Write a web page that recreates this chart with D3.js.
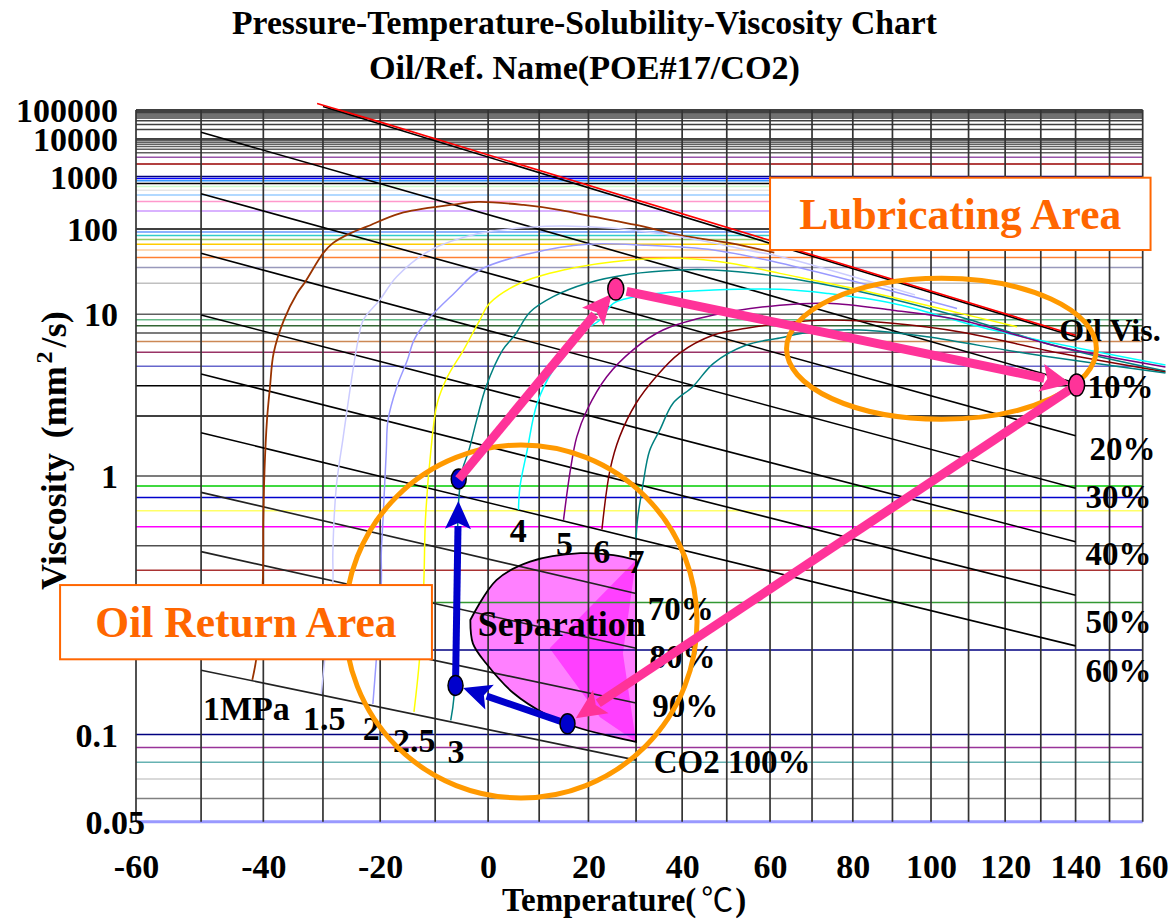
<!DOCTYPE html>
<html>
<head>
<meta charset="utf-8">
<script src="https://cdn.jsdelivr.net/npm/d3@7/dist/d3.min.js"></script>
<style>
html,body{margin:0;padding:0;background:#fff;}
svg text{font-family:"Liberation Serif","Times New Roman",serif;font-weight:bold;}
</style>
</head>
<body>
<svg id="chart" width="1169" height="921"></svg>
<script>
// ---------------- DATA ----------------
const title1 = "Pressure-Temperature-Solubility-Viscosity Chart";
const title2 = "Oil/Ref. Name(POE#17/CO2)";
const xTickValues = [-60,-40,-20,0,20,40,60,80,100,120,140,160];
const xTickLabels = ["-60","-40","-20","0","20","40","60","80","100","120","140","160"];
const yTickValues = [100000,10000,1000,100,10,1,0.1,0.05];
const yTickLabels = ["100000","10000","1000","100","10","1","0.1","0.05"];
const gridTemps = [-60,-50,-40,-30,-20,-10,0,10,20,30,40,50,60,70,80,90,100,110,120,130,140,150,160];

const hLineValues = [100000,90000,80000,70000,60000,50000,40000,30000,20000,10000,
  9000,8000,7000,6000,5000,4000,3000,2000,1000,900,800,700,600,500,400,300,200,100,
  90,80,70,60,50,40,30,20,10,9,8,7,6,5,4,3,2,1,0.9,0.8,0.7,0.6,0.5,0.4,0.3,0.2,0.1,
  0.09,0.08,0.07,0.06,0.05];
const hLineColors = ["#000000","#404040","#404040","#404040","#404040","#404040","#404040","#404040","#404040","#000000",
  "#606060","#606060","#606060","#606060","#606060","#606060","#9955aa","#990000","#000080","#0000ff","#3399ff","#000000","#ccffcc","#e6e6e6","#99ccff","#ff99cc","#cc99ff","#000000",
  "#6699ff","#33cccc","#99cc66","#ffcc00","#ffcc99","#ff8033","#9999bb","#c0c0c0","#606060","#66bb88","#336633","#505050","#cc8855","#993366","#6666cc","#000000","#000000","#505050",
  "#00cc00","#0000cc","#ffff66","#ff00ff","#505050","#aa3333","#339933","#000080","#000080",
  "#993399","#66b2b2","#d9d9d9","#808080","#9999ff"];

const concNames = ["10%","20%","30%","40%","50%","60%","70%","80%","90%","CO2 100%"];
const concStart = [[-50,16300],[-50,426],[-50,45.1],[-50,9.87],[-50,3.56],[-50,1.63],[-50,0.843],[-50,0.474],[-50,0.279],[-50,0.169]];
const concEnd = [[140,3.12],[140,1.57],[140,0.88],[140,0.52],[140,0.32],[140,0.207],[30,0.325],[30,0.203],[30,0.129],[30,0.0814]];
const concLabelAt = [[143.5,2.53],[144.1,1.19],[142.9,0.72],[142.9,0.419],[142.9,0.231],[142.9,0.153],[32.5,0.258],[32.9,0.172],[33.5,0.115],[33.8,0.0735]];

const oilVisLine = [[-30,136900],[140,6.53]];
const oilVisMeasured = [[-31,157000],[-20.1,32500],[59.8,64.9],[66.4,47.4],[140,6.53]];
const oilVisLabel = "Oil Vis.";
const oilVisLabelAt = [135.3,6.06];

const isobarNames = ["1MPa","1.5","2","2.5","3","4","5","6","7"];
const isobar1 = [[-41.8,0.156],[-41.1,0.189],[-40.1,0.356],[-40,0.64],[-39.8,1.07],[-39.4,1.9],[-38.9,2.96],[-38.3,4.94],[-36.6,8.93],[-34.4,15.7],[-33,20.8],[-30,45],[-28.3,62],[-25.3,86],[-22.4,109],[-16.4,182],[-7.1,257],[-1.9,293],[6.9,257],[14.3,208],[21,159],[30,116],[39.4,81],[50.8,62],[61,46]];
const isobar1_5 = [[-30.3,0.139],[-29.7,0.184],[-28.3,0.356],[-28.3,0.468],[-27.7,0.895],[-26.5,1.55],[-24.8,3.78],[-23.9,6.16],[-23,8.93],[-20.1,13.5],[-17,23.7],[-10.8,49.9],[-1.6,86],[8.2,107],[14.9,112],[25.2,103],[39.4,77],[54.5,50],[62.3,41],[95.8,15.2]];
const isobar2 = [[-21.3,0.128],[-19.8,0.356],[-19.8,0.468],[-19.5,0.64],[-18.9,1.32],[-18.6,1.9],[-17,2.96],[-15.1,4.41],[-13.9,6.16],[-11.4,8.93],[-6.5,15.7],[-1.6,28.1],[8.2,45],[19.7,60],[32.2,58],[47,50],[62.3,34],[106.9,11.3]];
const isobar2_5 = [[-13.9,0.12],[-12.9,0.184],[-12.1,0.356],[-11.8,0.64],[-10.8,1.32],[-9.6,2.37],[-7.7,3.42],[-4.7,5.19],[-1.6,8.93],[0.3,12.6],[6.2,20],[14.9,28.1],[28.6,37.1],[39.4,38.9],[50.8,33.8],[62.3,25.7],[81.9,17],[107.8,10.2],[123.3,7.85]];
const isobar3 = [[-7.1,0.112],[-6.5,0.135],[-6,0.307],[-5.6,0.78],[-4.9,1.07],[-3.7,1.32],[-2.2,1.9],[-0.4,2.96],[2.8,5.19],[5.2,6.74],[8.2,10.5],[12.8,14.6],[19.7,20],[28.6,25.1],[39.4,28.1],[47,28.1],[62.3,23.6],[81.9,16.3],[107.8,9.48],[135.3,5.46],[167,3.72]];
const isobar4 = [[5.9,0.706],[6.2,0.895],[7.6,1.32],[9.6,2.36],[12.8,3.78],[15.6,4.92],[18.2,6.99],[22.4,8.93],[25.2,12.6],[32.2,15.2],[47,17],[62.3,17.3],[73.7,15.7],[90,12.6],[116.6,7.38],[167,4.08]];
const isobar5 = [[14.9,0.64],[16.3,1.07],[17.6,1.55],[19.7,2.16],[23.8,3.42],[29.3,5.19],[35.8,7.38],[47,9.87],[62.3,12.1],[73.7,12.6],[90,10.9],[107.8,8.93],[135.3,5.49],[167,3.96]];
const isobar6 = [[22.8,0.584],[24.5,1.07],[26.5,1.55],[30,2.36],[34.3,3.42],[39.4,4.92],[47,6.74],[54.5,7.62],[62.3,8.38],[73.7,8.93],[90,8.38],[107.8,7.12],[135.3,4.94],[167,3.67]];
const isobar7 = [[30,0.537],[30.3,0.64],[31.4,0.895],[32.9,1.32],[35.1,1.68],[38,2.36],[42.4,2.97],[47,4.19],[54.5,5.65],[62.3,6.39],[69.6,7.12],[81.9,7.38],[98.9,6.53],[125.7,4.92],[167,3.61]];
const isobarLabelAt = [[-49.7,0.112],[-33.4,0.1035],[-23.1,0.0956],[-17.7,0.0868],[-7.7,0.0795],[4.2,0.52],[13.4,0.459],[21.0,0.427],[28.2,0.39]];

const sepTop = [[-3.4,0.258],[1.6,0.366],[8.2,0.432],[18.3,0.467],[25.2,0.459],[30,0.439]];
const sepBottom = [[30,0.0943],[25.2,0.0981],[17.6,0.106],[11.6,0.117],[4.9,0.14],[-0.4,0.179],[-2.9,0.211],[-3.4,0.258]];
const sepWedge = [[30,0.439],[12.1,0.203],[22.4,0.115],[30,0.0943],[27.2,0.1945]];
const sepLabel = "Separation";
const sepLabelAt = [-2.0,0.225];

const oilReturnCircleT = [-26.2,43.3], oilReturnCircleV = [1.41,0.0603];
const lubEllipseT = [63.9,146.1], lubEllipseV = [22.6,1.92];
const lubBoxT = [60,162.4], lubBoxV = [940,49.9];
const oilBoxT = [-71.1,-10.6], oilBoxV = [0.35,0.185];
const lubLabel = "Lubricating Area", oilLabel = "Oil Return Area";

const blueDots = [[-5.6,0.969],[-6.2,0.149],[15.7,0.109]];
const pinkDots = [[25.7,17.4],[140.3,3.03]];
const pinkArrows = [[[-5.6,0.969],[25.7,17.4]],[[25.7,17.4],[140.3,3.03]],[[140.3,3.03],[15.7,0.109]]];
const blueArrows = [[[-6.2,0.149],[-5.6,0.969]],[[15.7,0.109],[-6.2,0.149]]];

// ---------------- STYLES ----------------
const isobarColors = ["#993300","#ccccff","#9999ff","#ffff00","#008080","#00ffff","#800080","#800000","#008080"];
const isobarWidths = [1.8,1.5,1.5,1.5,1.5,1.5,1.5,1.5,1.5];
const pinkGaps = [[0,6],[11,6],[0,10]];
const blueGaps = [[0,22],[0,8]];

(function(){
const W = v => Math.log10(Math.log10(v + 1));
const kScale = d3.scaleLog().domain([213.15, 433.15]).range([136, 1142.7]);
const wScale = d3.scaleLinear().domain([W(0.05), W(100000)]).range([821.7, 110]);
const X = t => kScale(t + 273.15);
const Y = v => wScale(W(v));
const P = d => [X(d[0]), Y(d[1])];

const svg = d3.select("#chart");
svg.append("rect").attr("width",1169).attr("height",921).attr("fill","#fff");
const pL = X(-60), pR = X(160), pT = Y(100000), pB = Y(0.05);

const cr = d3.line().x(d=>X(d[0])).y(d=>Y(d[1])).curve(d3.curveCatmullRom.alpha(0.5));
const sepPath = cr(sepTop) + cr(sepBottom).replace(/^M/,"L") + "Z";
svg.append("path").attr("d", sepPath).attr("fill","#ff80ff");
svg.append("polygon").attr("points", sepWedge.map(d=>P(d).join(",")).join(" ")).attr("fill","#ff40ff");

svg.append("g").selectAll("line").data(hLineValues).join("line")
  .attr("x1", pL).attr("x2", pR).attr("y1", d=>Y(d)).attr("y2", d=>Y(d))
  .attr("stroke", (d,i)=>hLineColors[i])
  .attr("stroke-width", d => d===0.05 ? 3 : (d===0.07 ? 2 : 1.5));
svg.append("g").selectAll("line").data(gridTemps).join("line")
  .attr("x1", d=>X(d)).attr("x2", d=>X(d)).attr("y1", pT).attr("y2", pB)
  .attr("stroke", "#333").attr("stroke-width", 1.7);

const lin = d3.line().x(d=>X(d[0])).y(d=>Y(d[1]));
svg.append("g").selectAll("path").data(concNames).join("path")
  .attr("d", (d,i)=>lin([concStart[i], concEnd[i]]))
  .attr("fill","none").attr("stroke",(d,i)=> i>=6 ? "#222" : "#000").attr("stroke-width",1.6);
svg.append("path").attr("d", lin(oilVisLine)).attr("fill","none").attr("stroke","#000").attr("stroke-width",1.6);
svg.append("path").attr("d", lin(oilVisMeasured)).attr("fill","none").attr("stroke","#ff0000").attr("stroke-width",1.6).attr("transform","translate(0,-1.5)");

const isobars = [isobar1, isobar1_5, isobar2, isobar2_5, isobar3, isobar4, isobar5, isobar6, isobar7];
svg.append("g").selectAll("path").data(isobars).join("path")
  .attr("d", d=>cr(d)).attr("fill","none")
  .attr("stroke",(d,i)=>isobarColors[i]).attr("stroke-width",(d,i)=>isobarWidths[i]);

svg.append("path").attr("d", sepPath).attr("fill","none").attr("stroke","#000").attr("stroke-width",1.8);

const xAxis = d3.axisBottom(kScale).tickValues(xTickValues.map(t=>t+273.15))
  .tickFormat((d,i)=>xTickLabels[i]).tickSize(0).tickPadding(0);
const gx = svg.append("g").attr("transform",`translate(0,${pB})`).call(xAxis);
gx.select(".domain").remove();
gx.attr("font-size",34).attr("font-family",null);
gx.selectAll("text").attr("y",56).attr("dy",0).attr("fill","#000");

const yAxis = d3.axisLeft(wScale).tickValues(yTickValues.map(W))
  .tickFormat((d,i)=>yTickLabels[i]).tickSize(0).tickPadding(18);
const gy = svg.append("g").attr("transform",`translate(${pL},0)`).call(yAxis);
gy.select(".domain").remove();
gy.attr("font-size",34).attr("font-family",null);
gy.selectAll("text").attr("fill","#000").attr("dy","0.34em")
  .filter((d,i)=>yTickLabels[i]==="0.05").attr("x",9);

svg.append("text").attr("x",232).attr("y",34).attr("font-size",33).attr("textLength",705).attr("lengthAdjust","spacingAndGlyphs").text(title1);
svg.append("text").attr("x",369).attr("y",79).attr("font-size",33).attr("textLength",431).attr("lengthAdjust","spacingAndGlyphs").text(title2);
const xt = svg.append("text").attr("x",502).attr("y",911).attr("font-size",33);
xt.append("tspan").text("Temperature(");
xt.append("tspan").attr("dx",5).attr("font-family","'Noto Sans CJK JP'").attr("font-weight","normal").attr("font-size",32).text("\u2103");
xt.append("tspan").attr("dx",2).text(")");
const yt = svg.append("text").attr("transform","translate(66,590) rotate(-90)").attr("text-anchor","start").attr("font-size",36);
yt.append("tspan").text("Viscosity");
yt.append("tspan").attr("dx",6).text(" (mm");
yt.append("tspan").attr("font-size",24).attr("dy",-14).attr("dx",3).text("2");
yt.append("tspan").attr("dy",14).attr("dx",4).text("/s)");

const lab = svg.append("g").attr("font-size",33).attr("fill","#000");
lab.selectAll("text.c").data(concNames).join("text").attr("class","c")
  .attr("x",(d,i)=>X(concLabelAt[i][0])).attr("y",(d,i)=>Y(concLabelAt[i][1])).text(d=>d);
lab.append("text").attr("x",X(oilVisLabelAt[0])).attr("y",Y(oilVisLabelAt[1])).attr("font-size",32).text(oilVisLabel);
lab.selectAll("text.p").data(isobarNames).join("text").attr("class","p")
  .attr("x",(d,i)=>X(isobarLabelAt[i][0])).attr("y",(d,i)=>Y(isobarLabelAt[i][1])).attr("font-size",34).text(d=>d);
lab.append("text").attr("x",X(sepLabelAt[0])).attr("y",Y(sepLabelAt[1])).attr("font-size",36).text(sepLabel);

function ell(Tr, Vr) {
  const x0 = X(Tr[0]), x1 = X(Tr[1]), y0 = Y(Vr[0]), y1 = Y(Vr[1]);
  svg.append("ellipse").attr("cx",(x0+x1)/2).attr("cy",(y0+y1)/2)
    .attr("rx",Math.abs(x1-x0)/2).attr("ry",Math.abs(y1-y0)/2)
    .attr("fill","none").attr("stroke","#ff9900").attr("stroke-width",5);
}
ell(oilReturnCircleT, oilReturnCircleV);
ell(lubEllipseT, lubEllipseV);

function box(Tr, Vr, label) {
  const x0 = X(Tr[0]), x1 = X(Tr[1]), y0 = Y(Vr[0]), y1 = Y(Vr[1]);
  svg.append("rect").attr("x",x0).attr("y",y0).attr("width",x1-x0).attr("height",y1-y0)
    .attr("fill","#fff").attr("stroke","#ff6600").attr("stroke-width",2);
  svg.append("text").attr("x",(x0+x1)/2).attr("y",(y0+y1)/2).attr("dy","0.34em")
    .attr("text-anchor","middle").attr("font-size",43.5).attr("fill","#ff6600").text(label);
}
box(lubBoxT, lubBoxV, lubLabel);
box(oilBoxT, oilBoxV, oilLabel);

function arrow(a, b, color, width, headLen, headHalf, g0, g1) {
  const p0 = P(a), p1 = P(b);
  const dx = p1[0]-p0[0], dy = p1[1]-p0[1], L = Math.hypot(dx,dy);
  const ux = dx/L, uy = dy/L, nx = -uy, ny = ux;
  const sx = p0[0]+ux*g0, sy = p0[1]+uy*g0;
  const tx = p1[0]-ux*g1, ty = p1[1]-uy*g1;
  const bx = tx-ux*headLen, by = ty-uy*headLen;
  svg.append("line").attr("x1",sx).attr("y1",sy).attr("x2",bx+ux*3).attr("y2",by+uy*3)
    .attr("stroke",color).attr("stroke-width",width);
  svg.append("polygon").attr("fill",color)
    .attr("points",[[tx,ty],[bx+nx*headHalf,by+ny*headHalf],[bx+ux*6,by+uy*6],[bx-nx*headHalf,by-ny*headHalf]].map(p=>p.join(",")).join(" "));
}
blueArrows.forEach((a,i)=>arrow(a[0],a[1],"#0000cc",7,28,13,blueGaps[i][0],blueGaps[i][1]));
svg.append("g").selectAll("ellipse").data(blueDots).join("ellipse")
  .attr("cx",d=>X(d[0])).attr("cy",d=>Y(d[1])).attr("rx",7.5).attr("ry",10)
  .attr("fill","#0000cc").attr("stroke","#000").attr("stroke-width",1.5);
pinkArrows.forEach((a,i)=>arrow(a[0],a[1],"#ff3399",9,30,14,pinkGaps[i][0],pinkGaps[i][1]));
svg.append("g").selectAll("ellipse").data(pinkDots).join("ellipse")
  .attr("cx",d=>X(d[0])).attr("cy",d=>Y(d[1])).attr("rx",8).attr("ry",11)
  .attr("fill","#ff3399").attr("stroke","#000").attr("stroke-width",1.5);
})();
</script>
</body>
</html>
